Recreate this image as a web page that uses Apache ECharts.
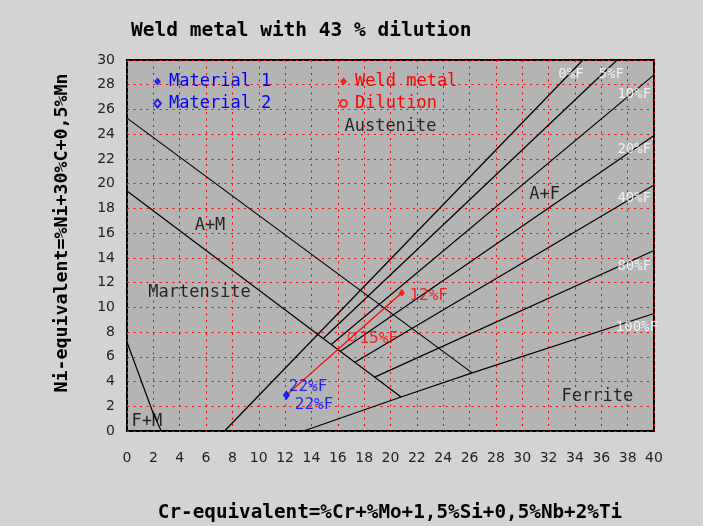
<!DOCTYPE html>
<html>
<head>
<meta charset="utf-8">
<script src="https://cdn.jsdelivr.net/npm/echarts@6/dist/echarts.min.js"></script>
<style>
  html, body { margin: 0; padding: 0; background: #d3d3d3; }
  #main { width: 703px; height: 526px; }
</style>
</head>
<body>
<div id="main"></div>
<script>
// Schaeffler diagram - weld metal with dilution
var MONO = 'DejaVu Sans Mono';

// boundary lines [Cr-eq, Ni-eq]
var lineAM = [[0, 25.3], [26.2, 4.7]];          // A / A+M
var lineM = [[0, 19.4], [20.8, 2.75]];          // M / A+M
var lineFM = [[0, 7.2], [2.0, 1.4], [2.6, 0]];  // F+M
var ferrite0 = [[7.4, 0], [34.6, 30]];
var ferrite5 = [[14.9, 7.48], [37.2, 30]];
var ferrite10 = [[15.5, 7.0], [40, 28.8]];
var ferrite20 = [[16.2, 6.44], [40, 23.9]];
var ferrite40 = [[17.3, 5.56], [40, 19.9]];
var ferrite80 = [[18.8, 4.36], [40, 14.6]];
var ferrite100 = [[13.4, 0], [20.8, 2.75], [26.2, 4.7], [40, 9.5]];

// materials
var material1 = [12.1, 2.9];
var material2 = [12.1, 2.9];
var weldMetal = [20.86, 11.18];
var dilution = [17.08, 7.62];

// texts in the diagram
var regionNames = ['Austenite', 'A+F', 'A+M', 'Martensite', 'Ferrite', 'F+M'];
var regionAt = [[20.0, 24.6], [31.7, 19.1], [6.3, 16.65], [5.5, 11.2], [35.7, 2.8], [1.5, 0.8]];
var ferriteNames = ['0%F', '5%F', '10%F', '20%F', '40%F', '80%F', '100%F'];
var ferriteAt = [[33.7, 28.8], [36.75, 28.8], [38.5, 27.2], [38.5, 22.8], [38.5, 18.8], [38.5, 13.3], [38.7, 8.4]];
var weldNames = ['12%F', '15%F'];
var weldAt = [[22.9, 10.9], [19.1, 7.44]];
var baseNames = ['22%F', '22%F'];
var baseAt = [[13.74, 3.6], [14.2, 2.15]];

function toItems(names, pts) {
    return names.map(function (n, i) { return { name: n, value: pts[i] }; });
}

function bLine(d) {
    return {
        type: 'line', data: d, symbol: 'none', silent: true,
        lineStyle: { color: '#000', width: 1.2 }, z: 3
    };
}

function txt(names, pts, color, size) {
    return {
        type: 'scatter', data: toItems(names, pts), symbolSize: 0, silent: true, z: 6,
        label: {
            show: true, position: 'inside', formatter: '{b}',
            color: color, fontFamily: MONO, fontSize: size
        }
    };
}

var chart = echarts.init(document.getElementById('main'));
var option = {
    animation: false,
    backgroundColor: '#d3d3d3',
    title: {
        text: 'Weld metal with 43 % dilution',
        left: 126, top: 16,
        textStyle: { fontFamily: MONO, fontSize: 19.5, fontWeight: 'bold', color: '#000' }
    },
    grid: {
        left: 127, top: 60, width: 527, height: 371,
        show: true, backgroundColor: '#b4b4b4', borderColor: '#000', borderWidth: 2
    },
    legend: [{
        orient: 'vertical', left: 148, top: 68, itemWidth: 7, itemHeight: 8, itemGap: 5,
        textStyle: { fontFamily: MONO, fontSize: 17, padding: [0, 0, 0, 3] },
        selectedMode: false,
        data: [
            { name: 'Material 1', textStyle: { color: '#0000ff' } },
            { name: 'Material 2', textStyle: { color: '#0000ff' } }
        ]
    }, {
        orient: 'vertical', left: 334, top: 68, itemWidth: 7, itemHeight: 8, itemGap: 5,
        textStyle: { fontFamily: MONO, fontSize: 17, padding: [0, 0, 0, 3] },
        selectedMode: false,
        data: [
            { name: 'Weld metal', textStyle: { color: '#ff0000' } },
            { name: 'Dilution', textStyle: { color: '#ff0000' } }
        ]
    }],
    xAxis: {
        type: 'value', min: 0, max: 40, interval: 2,
        axisLine: { show: false }, axisTick: { show: false },
        axisLabel: { margin: 20, fontSize: 14, color: '#222', fontFamily: 'DejaVu Sans' },
        splitLine: { show: true, lineStyle: { color: '#ff0000', width: 1, type: [2, 4.5] } }
    },
    yAxis: {
        type: 'value', min: 0, max: 30, interval: 2,
        axisLine: { show: false }, axisTick: { show: false },
        axisLabel: { margin: 12, fontSize: 14, color: '#222', fontFamily: 'DejaVu Sans' },
        splitLine: { show: true, lineStyle: { color: '#ff0000', width: 1, type: [2, 4.5] } }
    },
    graphic: [{
        type: 'text', x: 390, y: 513,
        style: {
            text: 'Cr-equivalent=%Cr+%Mo+1,5%Si+0,5%Nb+2%Ti',
            fontFamily: MONO, fontSize: 19.3, fontWeight: 'bold', fill: '#000',
            align: 'center', verticalAlign: 'middle'
        }
    }, {
        type: 'text', x: 62, y: 233, rotation: Math.PI / 2,
        style: {
            text: 'Ni-equivalent=%Ni+30%C+0,5%Mn',
            fontFamily: MONO, fontSize: 18.3, fontWeight: 'bold', fill: '#000',
            align: 'center', verticalAlign: 'middle'
        }
    }],
    series: [
        bLine(lineAM), bLine(lineM), bLine(lineFM),
        bLine(ferrite0), bLine(ferrite5), bLine(ferrite10), bLine(ferrite20),
        bLine(ferrite40), bLine(ferrite80), bLine(ferrite100),
        {
            type: 'line', data: [material1, weldMetal], symbol: 'none', silent: true, z: 4,
            lineStyle: { color: '#ff0000', width: 1.3 }
        },
        { name: 'Material 2', type: 'scatter', data: [material2], symbol: 'diamond', symbolSize: [6, 8],
          itemStyle: { color: 'rgba(0,0,0,0)', borderColor: '#0000ff', borderWidth: 1 }, z: 5 },
        { name: 'Material 1', type: 'scatter', data: [material1], symbol: 'diamond', symbolSize: [6, 8],
          itemStyle: { color: '#0000ff' }, z: 6 },
        { name: 'Weld metal', type: 'scatter', data: [weldMetal], symbol: 'diamond', symbolSize: [6, 8],
          itemStyle: { color: '#ff0000' }, z: 6 },
        { name: 'Dilution', type: 'scatter', data: [dilution], symbol: 'circle', symbolSize: 8,
          itemStyle: { color: 'rgba(0,0,0,0)', borderColor: '#ff0000', borderWidth: 1 }, z: 5 },
        txt(regionNames, regionAt, '#000', 17),
        txt(ferriteNames, ferriteAt, '#ffffff', 14),
        txt(weldNames, weldAt, '#ff0000', 16),
        txt(baseNames, baseAt, '#0000ff', 16)
    ]
};
chart.setOption(option);
</script>
</body>
</html>
